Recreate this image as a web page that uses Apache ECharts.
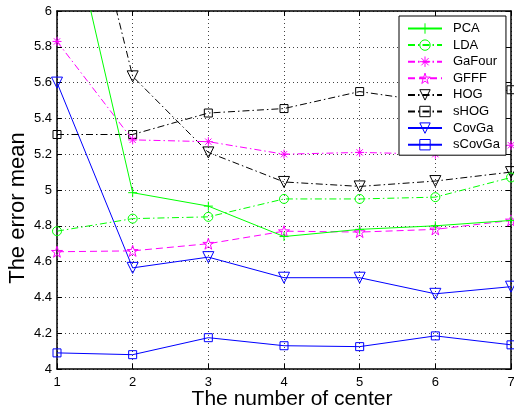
<!DOCTYPE html>
<html><head><meta charset="utf-8">
<script src="https://cdn.jsdelivr.net/npm/echarts@6/dist/echarts.min.js"></script>
<style>html,body{margin:0;padding:0;background:#fff}#c{width:514px;height:414px}</style>
</head><body><div id="c"></div>
<script>
const centers = [1, 2, 3, 4, 5, 6, 7];
const yTicks = [4, 4.2, 4.4, 4.6, 4.8, 5, 5.2, 5.4, 5.6, 5.8, 6];
const seriesNames = ['PCA', 'LDA', 'GaFour', 'GFFF', 'HOG', 'sHOG', 'CovGa', 'sCovGa'];
const PCA    = [6.82, 4.985, 4.91, 4.74, 4.78, 4.80, 4.83];
const LDA    = [4.77, 4.84, 4.85, 4.95, 4.95, 4.96, 5.07];
const GaFour = [5.83, 5.28, 5.27, 5.20, 5.21, 5.20, 5.25];
const GFFF   = [4.655, 4.66, 4.70, 4.77, 4.765, 4.78, 4.83];
const HOG    = [7.35, 5.635, 5.21, 5.045, 5.02, 5.05, 5.10];
const sHOG   = [5.31, 5.31, 5.43, 5.455, 5.55, 5.49, 5.56];
const CovGa  = [5.60, 4.565, 4.625, 4.51, 4.51, 4.42, 4.46];
const sCovGa = [4.09, 4.08, 4.175, 4.13, 4.125, 4.185, 4.135];

const G = '#00ff00', M = '#ff00ff', K = '#000000', B = '#0000ff';
const DASHDOT = [7, 3, 1.5, 3];
const DASH = [7, 4];
const sym = {
  plus: 'path://M0,5L10,5M5,0L5,10',
  aster: 'path://M0,5L10,5M5,0L5,10M1.5,1.5L8.5,8.5M1.5,8.5L8.5,1.5',
  star: 'path://M10,0L12.25,6.91L19.51,6.91L13.63,11.18L15.88,18.09L10,13.82L4.12,18.09L6.37,11.18L0.49,6.91L7.75,6.91Z',
  tri: 'path://M0,0L10,0L5,8.66Z',
  circ: 'circle',
  sq: 'rect'
};
const spec = [
  [PCA, G, 'solid', sym.plus, 9],
  [LDA, G, DASHDOT, sym.circ, 9],
  [GaFour, M, DASHDOT, sym.aster, 9],
  [GFFF, M, DASH, sym.star, 11],
  [HOG, K, DASHDOT, sym.tri, 11],
  [sHOG, K, DASHDOT, sym.sq, 8],
  [CovGa, B, 'solid', sym.tri, 11],
  [sCovGa, B, 'solid', sym.sq, 8]
];
const series = spec.map((s, i) => ({
  name: seriesNames[i],
  type: 'line',
  data: centers.map((c, j) => [c, s[0][j]]),
  symbol: s[3],
  symbolSize: s[4],
  showSymbol: true,
  clip: true,
  animation: false,
  lineStyle: { color: s[1], width: 1, type: s[2] },
  itemStyle: { color: 'rgba(0,0,0,0)', borderColor: s[1], borderWidth: 1 },
  emphasis: { disabled: true },
  z: 10 - i
}));

const font = 'Liberation Sans, Arial, Helvetica, sans-serif';
const chart = echarts.init(document.getElementById('c'), null, { renderer: 'canvas' });
chart.setOption({
  animation: false,
  backgroundColor: '#fff',
  grid: { left: 57, right: 3, top: 11, bottom: 45, containLabel: false, outerBoundsMode: 'none' },
  legend: {
    orient: 'vertical',
    left: 399, top: 16,
    padding: [6, 6, 4, 8],
    itemGap: 3.6,
    itemWidth: 34,
    itemHeight: 13,
    backgroundColor: '#fff',
    borderColor: '#000',
    borderWidth: 1,
    borderRadius: 0,
    itemStyle: { color: 'rgba(0,0,0,0)', borderWidth: 1 },
    textStyle: { fontFamily: font, fontSize: 13, color: '#000', padding: [0, 0, 0, 6] },
    data: seriesNames,
    z: 20
  },
  xAxis: [{
    type: 'value', min: 1, max: 7, interval: 1,
    name: 'The number of center', nameLocation: 'middle', nameGap: 20, nameMoveOverlap: false,
    nameTextStyle: { fontFamily: font, fontSize: 21, color: '#000', padding: [0, 0, 0, 16] },
    axisLine: { show: true, onZero: false, lineStyle: { color: '#000', width: 1.5 } },
    axisTick: { show: true, inside: true, length: 5, lineStyle: { color: '#000' } },
    axisLabel: { fontFamily: font, fontSize: 13, color: '#000', margin: 7 },
    splitLine: { show: true, lineStyle: { color: '#444', type: [1, 3], width: 1 } }
  }, {
    type: 'value', min: 1, max: 7, interval: 1, position: 'top',
    axisLine: { show: true, onZero: false, lineStyle: { color: '#000', width: 1.5 } },
    axisTick: { show: true, inside: true, length: 5, lineStyle: { color: '#000' } },
    axisLabel: { show: false }, splitLine: { show: false }
  }],
  yAxis: [{
    type: 'value', min: yTicks[0], max: yTicks[yTicks.length - 1], interval: 0.2,
    name: 'The error mean', nameLocation: 'middle', nameGap: 28, nameMoveOverlap: false,
    nameTextStyle: { fontFamily: font, fontSize: 22, color: '#000', padding: [0, 36, 0, 0] },
    axisLine: { show: true, onZero: false, lineStyle: { color: '#000', width: 1.5 } },
    axisTick: { show: true, inside: true, length: 5, lineStyle: { color: '#000' } },
    axisLabel: { fontFamily: font, fontSize: 13, color: '#000', margin: 5,
      formatter: v => String(Math.round(v * 10) / 10) },
    splitLine: { show: true, lineStyle: { color: '#444', type: [1, 3], width: 1 } }
  }, {
    type: 'value', min: yTicks[0], max: yTicks[yTicks.length - 1], interval: 0.2, position: 'right',
    axisLine: { show: true, onZero: false, lineStyle: { color: '#000', width: 1.5 } },
    axisTick: { show: true, inside: true, length: 5, lineStyle: { color: '#000' } },
    axisLabel: { show: false }, splitLine: { show: false }
  }],
  series: series
});
</script></body></html>
